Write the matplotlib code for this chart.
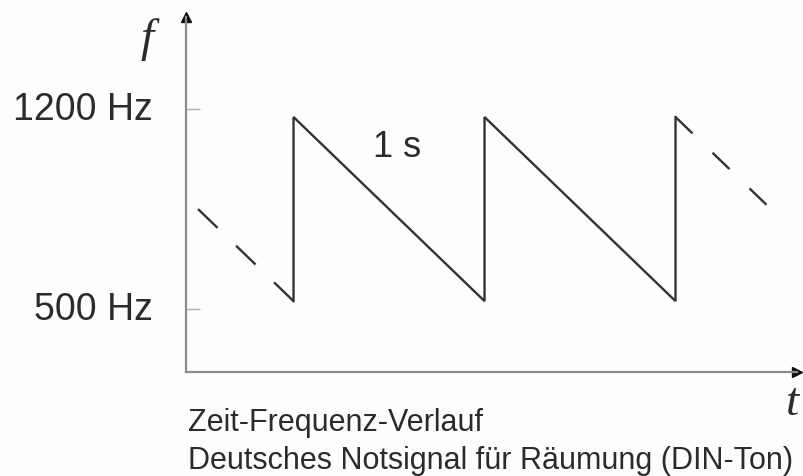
import matplotlib
matplotlib.use("Agg")
import matplotlib.pyplot as plt

# ---- data ----
f_high = 1172      # Hz, peak of sweep
f_low = 528        # Hz, bottom of sweep
jump_times = [0, 1, 2]            # s, instants of the upward jump
lead_in = (-0.5, 850)             # dashed lead-in start (t, f)
tail_end = (2.495, 853)           # dashed continuation end (t, f)
ytick_vals = [500, 1200]
ytick_labels = ["500 Hz", "1200 Hz"]
period_label = "1 s"
period_label_pos = (0.54, 1070)
caption = ["Zeit-Frequenz-Verlauf", "Deutsches Notsignal für Räumung (DIN-Ton)"]

W, H = 804, 477
fig = plt.figure(figsize=(W / 100, H / 100), dpi=100)
bg = "#fdfdfb"
fig.patch.set_facecolor(bg)
plt.rcParams["font.family"] = ["Liberation Sans", "DejaVu Sans"]
plt.rcParams["lines.scale_dashes"] = False

ax = fig.add_axes([186 / W, (H - 373) / H, (797 - 186) / W, (373 - 18) / H])
ax.set_facecolor(bg)
ax.set_xlim(-0.563, 2.636)
ax.set_ylim(280, 1522)

txt = "#2b2b2b"
line_c = "#333333"

# solid sawtooth
ts, fs = [], []
for i, t0 in enumerate(jump_times):
    ts += [t0, t0]
    fs += [f_low, f_high]
    if i < len(jump_times) - 1:
        ts.append(jump_times[i + 1])
        fs.append(f_low)
ax.plot(ts, fs, color=line_c, lw=1.7, solid_joinstyle="miter")

# dashed lead-in and continuation
ax.plot([lead_in[0], jump_times[0]], [lead_in[1], f_low], color=line_c, lw=1.7,
        linestyle=(0, (19.5, 18.5)), dash_capstyle="butt")
ax.plot([jump_times[-1], tail_end[0]], [f_high, tail_end[1]], color=line_c, lw=1.7,
        linestyle=(0, (17, 20)), dash_capstyle="butt")

ax.text(period_label_pos[0], period_label_pos[1], period_label, fontsize=26,
        color=txt, ha="center", va="center")

# axes styling
for s in ["top", "right"]:
    ax.spines[s].set_visible(False)
for s in ["left", "bottom"]:
    ax.spines[s].set_color("#8c8c8c")
    ax.spines[s].set_linewidth(1.6)
ax.set_xticks([])
ax.set_yticks(ytick_vals)
ax.set_yticklabels(ytick_labels)
ax.tick_params(axis="y", direction="in", length=10, width=1.0, color="#b0b0b0",
               pad=24, labelsize=27, labelcolor=txt)
for lbl in ax.get_yticklabels():
    lbl.set_verticalalignment("center")

# arrowheads
ax.plot([0], [1], marker="^", markersize=7, color="#111111", transform=ax.transAxes, clip_on=False)
ax.plot([1], [0], marker=">", markersize=7, color="#111111", transform=ax.transAxes, clip_on=False)

# axis symbols
fig.text(147 / W, 1 - 40 / H, "f", family=["Liberation Serif", "DejaVu Serif"], style="italic",
         fontsize=34, color=txt, ha="center", va="center")
fig.text(792 / W, 1 - 404 / H, "t", family=["Liberation Serif", "DejaVu Serif"], style="italic",
         fontsize=34, color=txt, ha="center", va="center")

# caption
fig.text(188 / W, 1 - 431 / H, caption[0], fontsize=22, color=txt, ha="left", va="baseline")
fig.text(188 / W, 1 - 469 / H, caption[1], fontsize=22, color=txt, ha="left", va="baseline")

fig.savefig("out.png", dpi=100, facecolor=bg)
